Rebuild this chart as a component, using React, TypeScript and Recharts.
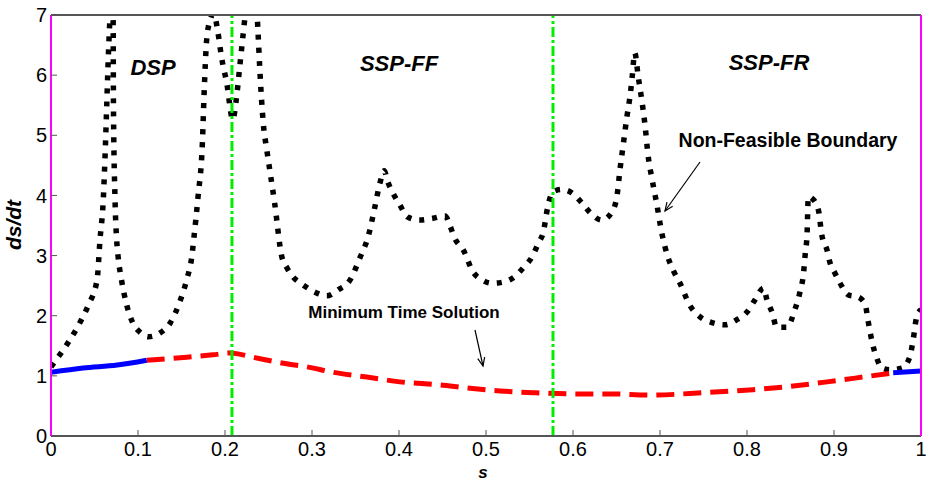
import React from "react";
import { LineChart, Line, XAxis, YAxis, ReferenceLine } from "recharts";

// s ticks and ds/dt ticks
const sTicks = [0, 0.1, 0.2, 0.3, 0.4, 0.5, 0.6, 0.7, 0.8, 0.9, 1];
const vTicks = [0, 1, 2, 3, 4, 5, 6, 7];

// non-feasible boundary (black dotted)
const boundaryS = [
  0, 0.005, 0.014, 0.03, 0.043, 0.053, 0.0563, 0.0601, 0.0621, 0.064, 0.0659, 0.0678, 0.0697,
  0.0714, 0.0718, 0.0736, 0.0755, 0.077, 0.081, 0.087, 0.094, 0.102, 0.112, 0.125, 0.137,
  0.148, 0.156, 0.162, 0.164, 0.169, 0.174, 0.176, 0.179, 0.183, 0.187, 0.192, 0.196, 0.202,
  0.209, 0.213, 0.217, 0.221, 0.223, 0.23, 0.237, 0.238, 0.24, 0.244, 0.248, 0.252, 0.257,
  0.265, 0.271, 0.278, 0.29, 0.305, 0.317, 0.33, 0.344, 0.355, 0.365, 0.372, 0.378, 0.383,
  0.387, 0.393, 0.401, 0.41, 0.424, 0.439, 0.453, 0.459, 0.464, 0.474, 0.485, 0.495, 0.507,
  0.52, 0.533, 0.543, 0.553, 0.56, 0.566, 0.571, 0.577, 0.587, 0.599, 0.61, 0.62, 0.633,
  0.645, 0.651, 0.654, 0.658, 0.662, 0.666, 0.668, 0.671, 0.675, 0.679, 0.683, 0.686, 0.691,
  0.696, 0.702, 0.709, 0.715, 0.723, 0.734, 0.746, 0.761, 0.775, 0.788, 0.8, 0.809, 0.819,
  0.823, 0.829, 0.834, 0.846, 0.855, 0.861, 0.865, 0.867, 0.869, 0.8705, 0.874, 0.882, 0.886,
  0.892, 0.895, 0.901, 0.907, 0.916, 0.928, 0.936, 0.939, 0.944, 0.949, 0.955, 0.964, 0.978,
  0.987, 0.991, 0.995, 1,
];
const boundaryV = [
  1.15, 1.25, 1.43, 1.8, 2.18, 2.6, 3.26, 3.93, 4.64, 5.47, 6.31, 6.97, 7.6,
  6.97, 5.47, 3.93, 3.26, 3.0, 2.6, 2.18, 1.88, 1.73, 1.65, 1.71, 1.88,
  2.23, 2.6, 3.0, 3.26, 3.98, 4.87, 5.7, 6.6, 6.92, 7.02, 6.7, 6.3, 5.87,
  5.26, 5.6, 6.15, 6.7, 6.97, 7.6, 6.97, 6.7, 6.1, 5.2, 4.76, 4.37, 3.88,
  3.0, 2.8, 2.65, 2.51, 2.38, 2.33, 2.43, 2.6, 2.96, 3.34, 3.79, 4.2, 4.41,
  4.23, 4.04, 3.84, 3.64, 3.59, 3.62, 3.66, 3.48, 3.29, 3.09, 2.73, 2.6, 2.54,
  2.56, 2.65, 2.8, 2.98, 3.2, 3.4, 3.81, 4.06, 4.1, 4.04, 3.88, 3.71, 3.59,
  3.73, 4.04, 4.43, 4.87, 5.31, 5.7, 5.97, 6.37, 5.97, 5.59, 5.14, 4.7, 4.26,
  3.88, 3.38, 2.98, 2.76, 2.54, 2.18, 1.98, 1.88, 1.85, 1.93, 2.06, 2.26, 2.46,
  2.26, 2.05, 1.81, 1.81, 2.1, 2.4, 2.71, 3.04, 3.34, 3.98, 3.96, 3.76, 3.34,
  3.09, 2.9, 2.71, 2.54, 2.35, 2.31, 2.18, 1.93, 1.55, 1.3, 1.13, 1.1, 1.13,
  1.31, 1.6, 1.98, 2.1,
];

// minimum time solution: blue (start), red dashed (middle), blue (end)
const blueStartS = [0, 0.037, 0.076, 0.11];
const blueStartV = [1.06, 1.13, 1.18, 1.26];
const redS = [
  0.11, 0.156, 0.186, 0.206, 0.232, 0.267, 0.294, 0.324, 0.363, 0.401, 0.447, 0.478, 0.516,
  0.554, 0.6, 0.643, 0.688, 0.75, 0.807, 0.846, 0.892, 0.933, 0.968,
];
const redV = [
  1.26, 1.31, 1.35, 1.38, 1.31, 1.21, 1.15, 1.06, 0.98, 0.9, 0.85, 0.8, 0.75,
  0.72, 0.7, 0.7, 0.68, 0.72, 0.77, 0.82, 0.9, 0.98, 1.05,
];
const blueEndS = [0.968, 1];
const blueEndV = [1.05, 1.08];

// phase boundaries (green dash-dot)
const phaseBounds = [0.208, 0.577];

const zip = (s: number[], v: number[]) => s.map((x, i) => ({ s: x, v: v[i] }));

const boundary = zip(boundaryS, boundaryV);
const blueStart = zip(blueStartS, blueStartV);
const red = zip(redS, redV);
const blueEnd = zip(blueEndS, blueEndV);

const FONT = "'Liberation Sans', Arial, sans-serif";
const GRAY = "#555";
const MAGENTA = "#ff00ff";

function Arrow({ x1, y1, x2, y2 }: { x1: number; y1: number; x2: number; y2: number }) {
  const a = Math.atan2(y2 - y1, x2 - x1);
  const len = 9;
  const spread = 0.4;
  const hx1 = x2 - len * Math.cos(a - spread);
  const hy1 = y2 - len * Math.sin(a - spread);
  const hx2 = x2 - len * Math.cos(a + spread);
  const hy2 = y2 - len * Math.sin(a + spread);
  return (
    <g stroke="#000" strokeWidth={1.2} fill="none">
      <line x1={x1} y1={y1} x2={x2} y2={y2} />
      <polyline points={`${hx1},${hy1} ${x2},${y2} ${hx2},${hy2}`} />
    </g>
  );
}

export default function App() {
  return (
    <div style={{ position: "absolute", left: 0, top: 0, width: 930, height: 483, fontFamily: FONT, background: "#fff" }}>
      <LineChart width={930} height={483} margin={{ top: 0, right: 0, bottom: 0, left: 0 }}>
        <XAxis
          xAxisId="b"
          dataKey="s"
          type="number"
          domain={[0, 1]}
          ticks={sTicks}
          interval={0}
          allowDataOverflow
          height={47}
          tickSize={-6}
          tickMargin={12}
          axisLine={{ stroke: GRAY, strokeWidth: 2 }}
          tickLine={{ stroke: GRAY }}
          tick={{ fill: "#000", fontSize: 20, fontFamily: FONT }}
        />
        <XAxis
          xAxisId="t"
          orientation="top"
          dataKey="s"
          type="number"
          domain={[0, 1]}
          ticks={sTicks}
          interval={0}
          height={15}
          tickSize={-6}
          tickFormatter={() => ""}
          axisLine={{ stroke: GRAY, strokeWidth: 2 }}
          tickLine={{ stroke: GRAY }}
        />
        <YAxis
          yAxisId="l"
          type="number"
          domain={[0, 7]}
          ticks={vTicks}
          interval={0}
          allowDataOverflow
          width={51}
          tickSize={-6}
          tickMargin={10}
          axisLine={{ stroke: MAGENTA, strokeWidth: 2 }}
          tickLine={{ stroke: GRAY }}
          tick={{ fill: "#000", fontSize: 20, fontFamily: FONT }}
        />
        <YAxis
          yAxisId="r"
          orientation="right"
          type="number"
          domain={[0, 7]}
          ticks={vTicks}
          interval={0}
          width={9}
          tickSize={-6}
          tickFormatter={() => ""}
          axisLine={{ stroke: MAGENTA, strokeWidth: 2 }}
          tickLine={{ stroke: GRAY }}
        />
        <Line
          xAxisId="b"
          yAxisId="l"
          data={boundary}
          dataKey="v"
          type="monotone"
          stroke="#000"
          strokeWidth={5.5}
          strokeDasharray="5 8"
          strokeLinecap="butt"
          dot={false}
          isAnimationActive={false}
        />
        <Line
          xAxisId="b"
          yAxisId="l"
          data={red}
          dataKey="v"
          type="monotone"
          stroke="#ff0000"
          strokeWidth={5}
          strokeDasharray="18 9"
          dot={false}
          isAnimationActive={false}
        />
        <Line
          xAxisId="b"
          yAxisId="l"
          data={blueStart}
          dataKey="v"
          type="monotone"
          stroke="#0000ff"
          strokeWidth={5}
          dot={false}
          isAnimationActive={false}
        />
        <Line
          xAxisId="b"
          yAxisId="l"
          data={blueEnd}
          dataKey="v"
          type="monotone"
          stroke="#0000ff"
          strokeWidth={5}
          dot={false}
          isAnimationActive={false}
        />
        {phaseBounds.map((x) => (
          <ReferenceLine
            key={x}
            xAxisId="b"
            yAxisId="l"
            x={x}
            stroke="#00ee00"
            strokeWidth={3}
            strokeDasharray="10 3 3 3"
          />
        ))}
      </LineChart>
      <svg width={930} height={483} style={{ position: "absolute", left: 0, top: 0, pointerEvents: "none" }}>
        <g fontFamily={FONT} fill="#000" textAnchor="middle">
          <text x={153} y={75} fontSize={22} fontWeight="bold" fontStyle="italic">DSP</text>
          <text x={399} y={71} fontSize={22} fontWeight="bold" fontStyle="italic">SSP-FF</text>
          <text x={769} y={70} fontSize={22} fontWeight="bold" fontStyle="italic">SSP-FR</text>
          <text x={788} y={147} fontSize={19.5} fontWeight="bold">Non-Feasible Boundary</text>
          <text x={404} y={318} fontSize={17} fontWeight="bold">Minimum Time Solution</text>
          <text x={483} y={478} fontSize={17} fontWeight="bold" fontStyle="italic">s</text>
          <text x={21} y={225} fontSize={21} fontWeight="bold" fontStyle="italic" transform="rotate(-90 21 225)">ds/dt</text>
        </g>
        <Arrow x1={700} y1={162} x2={665} y2={211} />
        <Arrow x1={475} y1={330} x2={483} y2={366} />
      </svg>
    </div>
  );
}
